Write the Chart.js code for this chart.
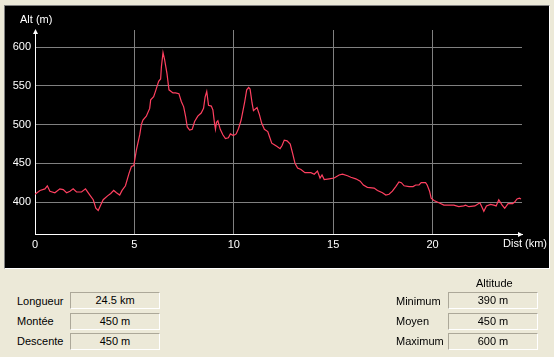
<!DOCTYPE html>
<html><head><meta charset="utf-8">
<script src="https://cdn.jsdelivr.net/npm/chart.js@4"></script>
<style>
html,body{margin:0;padding:0;}
body{width:554px;height:357px;background:#ECE9D8;position:relative;overflow:hidden;font-family:"Liberation Sans",Arial,sans-serif;font-size:11px;color:#000;}
#panel{position:absolute;left:4px;top:5px;width:544px;height:262px;background:#000;border-top:1px solid #808080;border-left:1px solid #808080;border-bottom:1px solid #fff;border-right:1px solid #fff;}
canvas{display:block}
.lbl{position:absolute;line-height:13px;white-space:nowrap;}
.wt{color:#fff;}
.box{position:absolute;width:88px;height:15px;border-top:1px solid #aca899;border-left:1px solid #aca899;border-bottom:1px solid #fff;border-right:1px solid #fff;text-align:center;line-height:15px;}
</style>
</head><body>
<div id="panel">
<canvas id="c" width="544" height="262"></canvas>
<div class="lbl wt" style="left:15px;top:7px;">Alt (m)</div>
<div class="lbl wt" style="left:498px;top:231px;">Dist (km)</div>
</div>
<div class="lbl" style="left:17px;top:295px;">Longueur</div>
<div class="box" style="left:70px;top:292px;">24.5 km</div>
<div class="lbl" style="left:17px;top:315px;">Montée</div>
<div class="box" style="left:70px;top:313px;">450 m</div>
<div class="lbl" style="left:17px;top:335px;">Descente</div>
<div class="box" style="left:70px;top:333px;">450 m</div>
<div class="lbl" style="left:476px;top:277px;">Altitude</div>
<div class="lbl" style="left:396px;top:295px;">Minimum</div>
<div class="box" style="left:448px;top:292px;">390 m</div>
<div class="lbl" style="left:396px;top:315px;">Moyen</div>
<div class="box" style="left:448px;top:313px;">450 m</div>
<div class="lbl" style="left:396px;top:335px;">Maximum</div>
<div class="box" style="left:448px;top:333px;">600 m</div>
<script>
const distKm = [0.00,0.25,0.50,0.62,0.75,1.00,1.25,1.42,1.59,1.76,1.92,2.09,2.34,2.54,2.76,2.93,3.06,3.18,3.30,3.43,3.65,3.81,3.96,4.10,4.26,4.38,4.55,4.73,4.85,4.97,5.10,5.27,5.35,5.43,5.60,5.77,5.82,5.97,6.06,6.22,6.32,6.36,6.44,6.52,6.64,6.74,6.94,7.07,7.24,7.36,7.48,7.58,7.66,7.78,7.91,8.03,8.19,8.36,8.48,8.56,8.64,8.73,8.87,8.95,9.03,9.08,9.13,9.20,9.32,9.45,9.58,9.73,9.83,9.98,10.12,10.24,10.37,10.54,10.65,10.75,10.82,10.92,10.99,11.17,11.29,11.40,11.54,11.71,11.79,11.91,12.04,12.16,12.33,12.43,12.54,12.68,12.84,12.96,13.08,13.21,13.38,13.58,13.88,14.05,14.21,14.34,14.44,14.55,14.80,15.05,15.30,15.47,15.72,15.89,16.14,16.36,16.52,16.72,17.06,17.23,17.48,17.65,17.81,17.98,18.15,18.31,18.43,18.57,18.82,19.02,19.15,19.32,19.43,19.65,19.73,19.85,19.93,20.07,20.32,20.57,21.07,21.32,21.57,21.66,21.83,22.13,22.38,22.46,22.58,22.71,22.92,23.08,23.20,23.33,23.50,23.63,23.80,24.03,24.13,24.25,24.37,24.45];
const altM = [410,415,417,421,414,412,417,416,412,414,417,413,413,417,409,403,392,389,396,403,408,411,415,412,409,415,421,437,446,447,467,487,500,506,511,521,532,536,543,556,559,575,593,584,566,545,541,541,540,530,523,510,497,493,494,504,511,515,521,536,543,525,524,519,502,494,503,505,494,487,482,483,488,486,488,495,506,528,545,548,546,528,518,522,513,502,494,491,485,476,474,472,469,473,480,479,475,463,450,444,442,438,438,436,440,431,435,429,430,431,435,436,434,432,430,427,422,419,418,415,412,409,410,414,420,426,425,421,420,420,422,422,425,425,422,414,405,402,399,396,396,394,395,396,394,395,399,395,388,395,397,396,395,403,396,392,398,398,400,404,405,404];
const xTicks = [0,5,10,15,20];
const yTicks = [400,450,500,550,600];

const arrows = {
  id:'arrows',
  afterDraw(chart){
    const {ctx, chartArea:a} = chart;
    ctx.save();
    ctx.fillStyle = '#fff';
    ctx.beginPath();
    ctx.moveTo(a.left+0.5, a.top-1);
    ctx.lineTo(a.left-2, a.top+4);
    ctx.lineTo(a.left+3, a.top+4);
    ctx.closePath(); ctx.fill();
    ctx.beginPath();
    ctx.moveTo(a.right+1, a.bottom+0.5);
    ctx.lineTo(a.right-4, a.bottom-2);
    ctx.lineTo(a.right-4, a.bottom+3);
    ctx.closePath(); ctx.fill();
    ctx.restore();
  }
};

new Chart(document.getElementById('c'), {
  type:'line',
  data:{datasets:[{
    data: distKm.map((d,i)=>({x:d,y:altM[i]})),
    borderColor:'#ff4060', borderWidth:1.2, pointRadius:0, tension:0, fill:false
  }]},
  options:{
    responsive:false, animation:false, devicePixelRatio:1,
    layout:{padding:{left:0,right:27,top:24,bottom:0}},
    plugins:{legend:{display:false},tooltip:{enabled:false}},
    scales:{
      x:{type:'linear', min:0, max:24.5,
        afterBuildTicks:s=>{s.ticks = xTicks.map(v=>({value:v}));},
        afterFit:s=>{s.height=34;},
        grid:{color:'#808080', drawTicks:false},
        border:{color:'#fff', width:1},
        ticks:{color:'#fff', font:{family:'Liberation Sans', size:11}, padding:4, maxRotation:0, autoSkip:false}
      },
      y:{type:'linear', min:358.7, max:622.3,
        afterBuildTicks:s=>{s.ticks = yTicks.map(v=>({value:v}));},
        afterFit:s=>{s.width=30;},
        grid:{color:'#808080', drawTicks:false},
        border:{color:'#fff', width:1},
        ticks:{color:'#fff', font:{family:'Liberation Sans', size:11}, padding:4, autoSkip:false}
      }
    }
  },
  plugins:[arrows]
});
</script>
</body></html>
